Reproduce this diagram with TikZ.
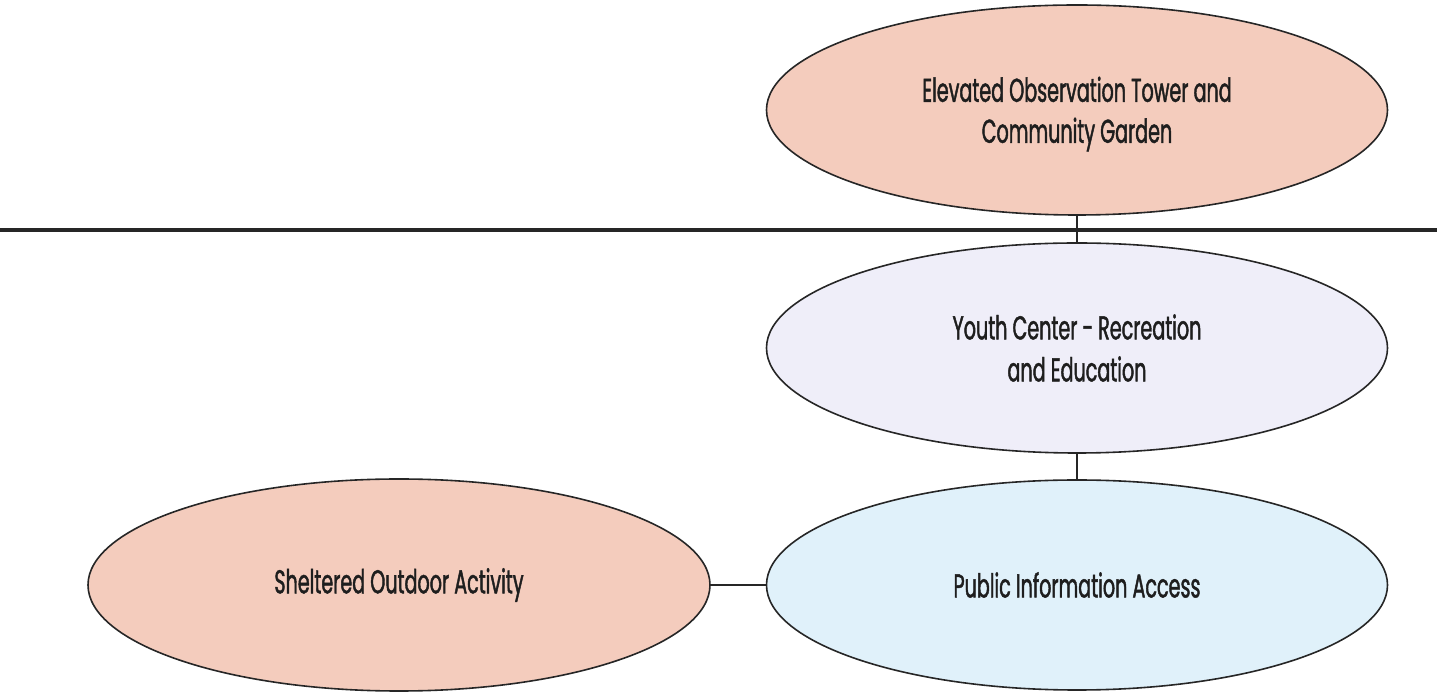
\documentclass[tikz,border=0pt]{standalone}
\usepackage{fontspec}
\setmainfont[FakeStretch=0.58, FakeBold=1.3]{Poppins}
\usetikzlibrary{shapes.geometric}
\definecolor{peach}{HTML}{F4CCBD}
\definecolor{lav}{HTML}{EFEEF9}
\definecolor{lblue}{HTML}{E0F1FA}
\definecolor{txt}{HTML}{1E1E1E}
\tikzset{
  oval/.style={ellipse, draw=black!85, line width=1.6pt, inner sep=0pt,
    minimum width=621pt, minimum height=210pt, align=center, text=txt,
    font=\fontsize{33pt}{42pt}\selectfont},
  link/.style={draw=black!85, line width=1.6pt}
}
\begin{document}
\begin{tikzpicture}[x=1pt,y=1pt]
\useasboundingbox (0,0) rectangle (1437,693);
\node[oval, fill=peach] (tower) at (1077,583) {};
\node[align=center, text=txt, font=\fontsize{33pt}{41pt}\selectfont] (towertext) at (1077,579) {Elevated Observation Tower and\\Community Garden};
\node[oval, fill=lav] (youth) at (1077,345) {Youth Center - Recreation\\and Education};
\node[oval, fill=lblue] (info) at (1077,108) {Public Information Access};
\node[oval, fill=peach, minimum width=622pt, minimum height=212pt] (shelter) at (399,108) {Sheltered Outdoor Activity};
\coordinate (bl) at (0,463);
\coordinate (br) at (1437,463);
\draw[draw=black!85, line width=4pt] (bl) -- (br);
\draw[link] (tower.south) -- (youth.north);
\draw[link] (youth.south) -- (info.north);
\draw[link] (shelter.east) -- (info.west);
\end{tikzpicture}
\end{document}
